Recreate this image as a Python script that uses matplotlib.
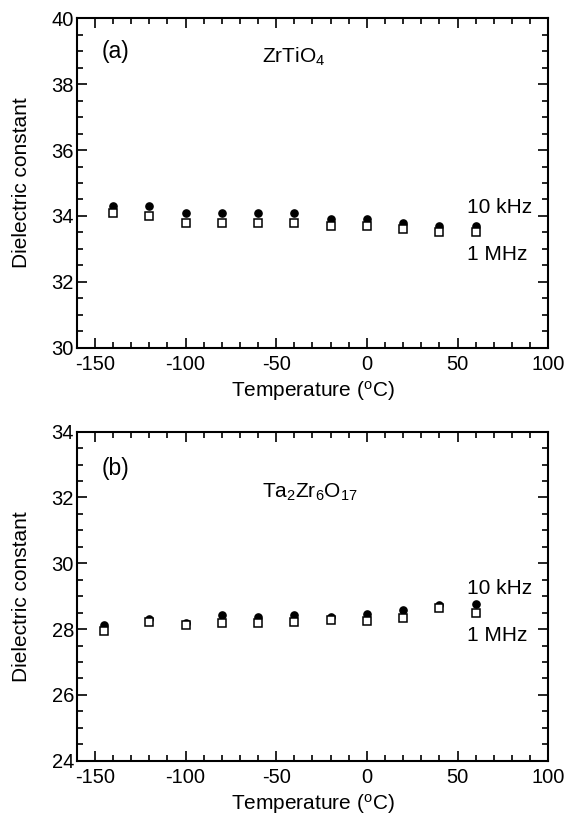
import numpy as np
import matplotlib
matplotlib.use("Agg")
import matplotlib.pyplot as plt
from matplotlib.ticker import MultipleLocator

plt.rcParams['font.family'] = ['Liberation Sans', 'DejaVu Sans']
plt.rcParams['mathtext.fontset'] = 'custom'
plt.rcParams['mathtext.rm'] = 'Liberation Sans'
plt.rcParams['mathtext.it'] = 'Liberation Sans'
plt.rcParams['axes.unicode_minus'] = False

# panel (a): ZrTiO4
temp_a = [-140, -120, -100, -80, -60, -40, -20, 0, 20, 40, 60]
eps_10k_a = [34.3, 34.3, 34.1, 34.1, 34.1, 34.1, 33.9, 33.9, 33.8, 33.7, 33.7]
eps_1M_a = [34.1, 34.0, 33.8, 33.8, 33.8, 33.8, 33.7, 33.7, 33.6, 33.5, 33.5]

# panel (b): Ta2Zr6O17
temp_b = [-145, -120, -100, -80, -60, -40, -20, 0, 20, 40, 60]
eps_10k_b = [28.12, 28.3, 28.2, 28.42, 28.37, 28.43, 28.38, 28.47, 28.57, 28.72, 28.75]
eps_1M_b = [27.95, 28.22, 28.12, 28.18, 28.18, 28.22, 28.27, 28.25, 28.33, 28.65, 28.48]


def style_axes(ax, ylim):
    ax.set_xlim(-160, 100)
    ax.set_ylim(*ylim)
    ax.xaxis.set_major_locator(MultipleLocator(50))
    ax.xaxis.set_minor_locator(MultipleLocator(10))
    ax.yaxis.set_major_locator(MultipleLocator(2))
    ax.yaxis.set_minor_locator(MultipleLocator(0.5))
    ax.tick_params(which='both', direction='in', top=True, right=True,
                   labelsize=14.5, width=1.2)
    ax.tick_params(axis='x', pad=5)
    ax.tick_params(axis='y', pad=2)
    ax.tick_params(which='major', length=7)
    ax.tick_params(which='minor', length=4)
    for s in ax.spines.values():
        s.set_linewidth(1.5)
    ax.set_xlabel('Temperature ($^{\\mathregular{o}}$C)', fontsize=15, labelpad=4)
    ax.set_ylabel('Dielectric constant', fontsize=15, labelpad=15)


fig = plt.figure(figsize=(5.68, 8.21), dpi=100)
ax1 = fig.add_axes([0.135, 0.5765, 0.8303, 0.4012])
ax2 = fig.add_axes([0.135, 0.0734, 0.8303, 0.4008])

for ax, t, hi, lo, ylim in [(ax1, temp_a, eps_10k_a, eps_1M_a, (30, 40)),
                            (ax2, temp_b, eps_10k_b, eps_1M_b, (24, 34))]:
    ax.plot(t, hi, 'o', color='k', ms=5.2, zorder=2)
    ax.plot(t, lo, 's', mfc='white', mec='k', mew=1.1, ms=5.2, zorder=3)
    style_axes(ax, ylim)

ax1.text(-146, 38.8, '(a)', fontsize=16.5)
ax1.text(-58, 38.65, 'ZrTiO$_4$', fontsize=15)
ax1.text(55, 34.1, '10 kHz', fontsize=15)
ax1.text(55, 32.66, '1 MHz', fontsize=15)

ax2.text(-146, 32.68, '(b)', fontsize=16.5)
ax2.text(-58, 32.0, 'Ta$_2$Zr$_6$O$_{17}$', fontsize=15)
ax2.text(55, 29.07, '10 kHz', fontsize=15)
ax2.text(55, 27.64, '1 MHz', fontsize=15)

fig.savefig('out.png', dpi=100)
